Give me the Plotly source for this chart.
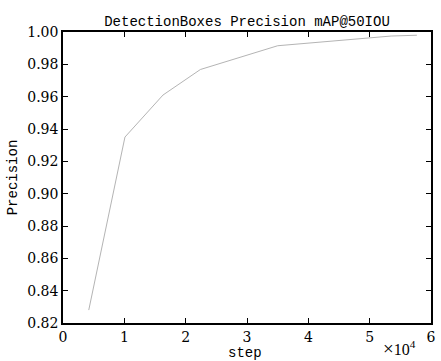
import plotly.graph_objects as go

steps = [4200, 10100, 16300, 22400, 35000, 53500, 57700]
precision = [0.828, 0.935, 0.961, 0.9768, 0.9915, 0.9975, 0.998]

x_tickvals = [0, 10000, 20000, 30000, 40000, 50000, 60000]
x_ticktext = ["0", "1", "2", "3", "4", "5", "6"]
y_tickvals = [0.82, 0.84, 0.86, 0.88, 0.90, 0.92, 0.94, 0.96, 0.98, 1.00]
y_ticktext = ["0.82", "0.84", "0.86", "0.88", "0.90", "0.92", "0.94", "0.96", "0.98", "1.00"]

SERIF = "DejaVu Serif, Liberation Serif, serif"
MONO = "Liberation Mono, DejaVu Sans Mono, monospace"

fig = go.Figure()
fig.add_trace(go.Scatter(x=steps, y=precision, mode="lines",
                         line=dict(color="#b4b4b4", width=1), showlegend=False))

axis_common = dict(showline=True, linecolor="black", linewidth=1.5, mirror="ticks",
                   ticks="inside", ticklen=5, tickwidth=1.2, tickcolor="black",
                   showgrid=False, zeroline=False,
                   tickfont=dict(family=SERIF, size=14, color="black"))

fig.update_xaxes(range=[0, 60000], tickvals=x_tickvals, ticktext=x_ticktext, **axis_common)
fig.update_yaxes(range=[0.82, 1.00], tickvals=y_tickvals, ticktext=y_ticktext,
                 title=dict(text="Precision", font=dict(family=MONO, size=14, color="black"), standoff=6),
                 **axis_common)

fig.add_annotation(text="step", xref="paper", yref="paper", x=0.495, y=0,
                   xanchor="center", yanchor="middle", yshift=-30, showarrow=False,
                   font=dict(family=MONO, size=14, color="black"))
fig.add_annotation(text="<span style='font-size:19px'>×</span>10<sup>4</sup>",
                   xref="paper", yref="paper", x=0.965, y=0,
                   xanchor="right", yanchor="middle", yshift=-25, showarrow=False,
                   font=dict(family="Liberation Serif, serif", size=16, color="black"))

fig.update_layout(
    width=441, height=361,
    margin=dict(l=63, r=5, t=32, b=38),
    paper_bgcolor="white", plot_bgcolor="white",
    title=dict(text="DetectionBoxes Precision mAP@50IOU", x=0.5, xref="paper",
               y=1, yref="paper", yanchor="bottom", pad=dict(b=6),
               font=dict(family=MONO, size=14, color="black")),
)

fig.write_html("out.html")
